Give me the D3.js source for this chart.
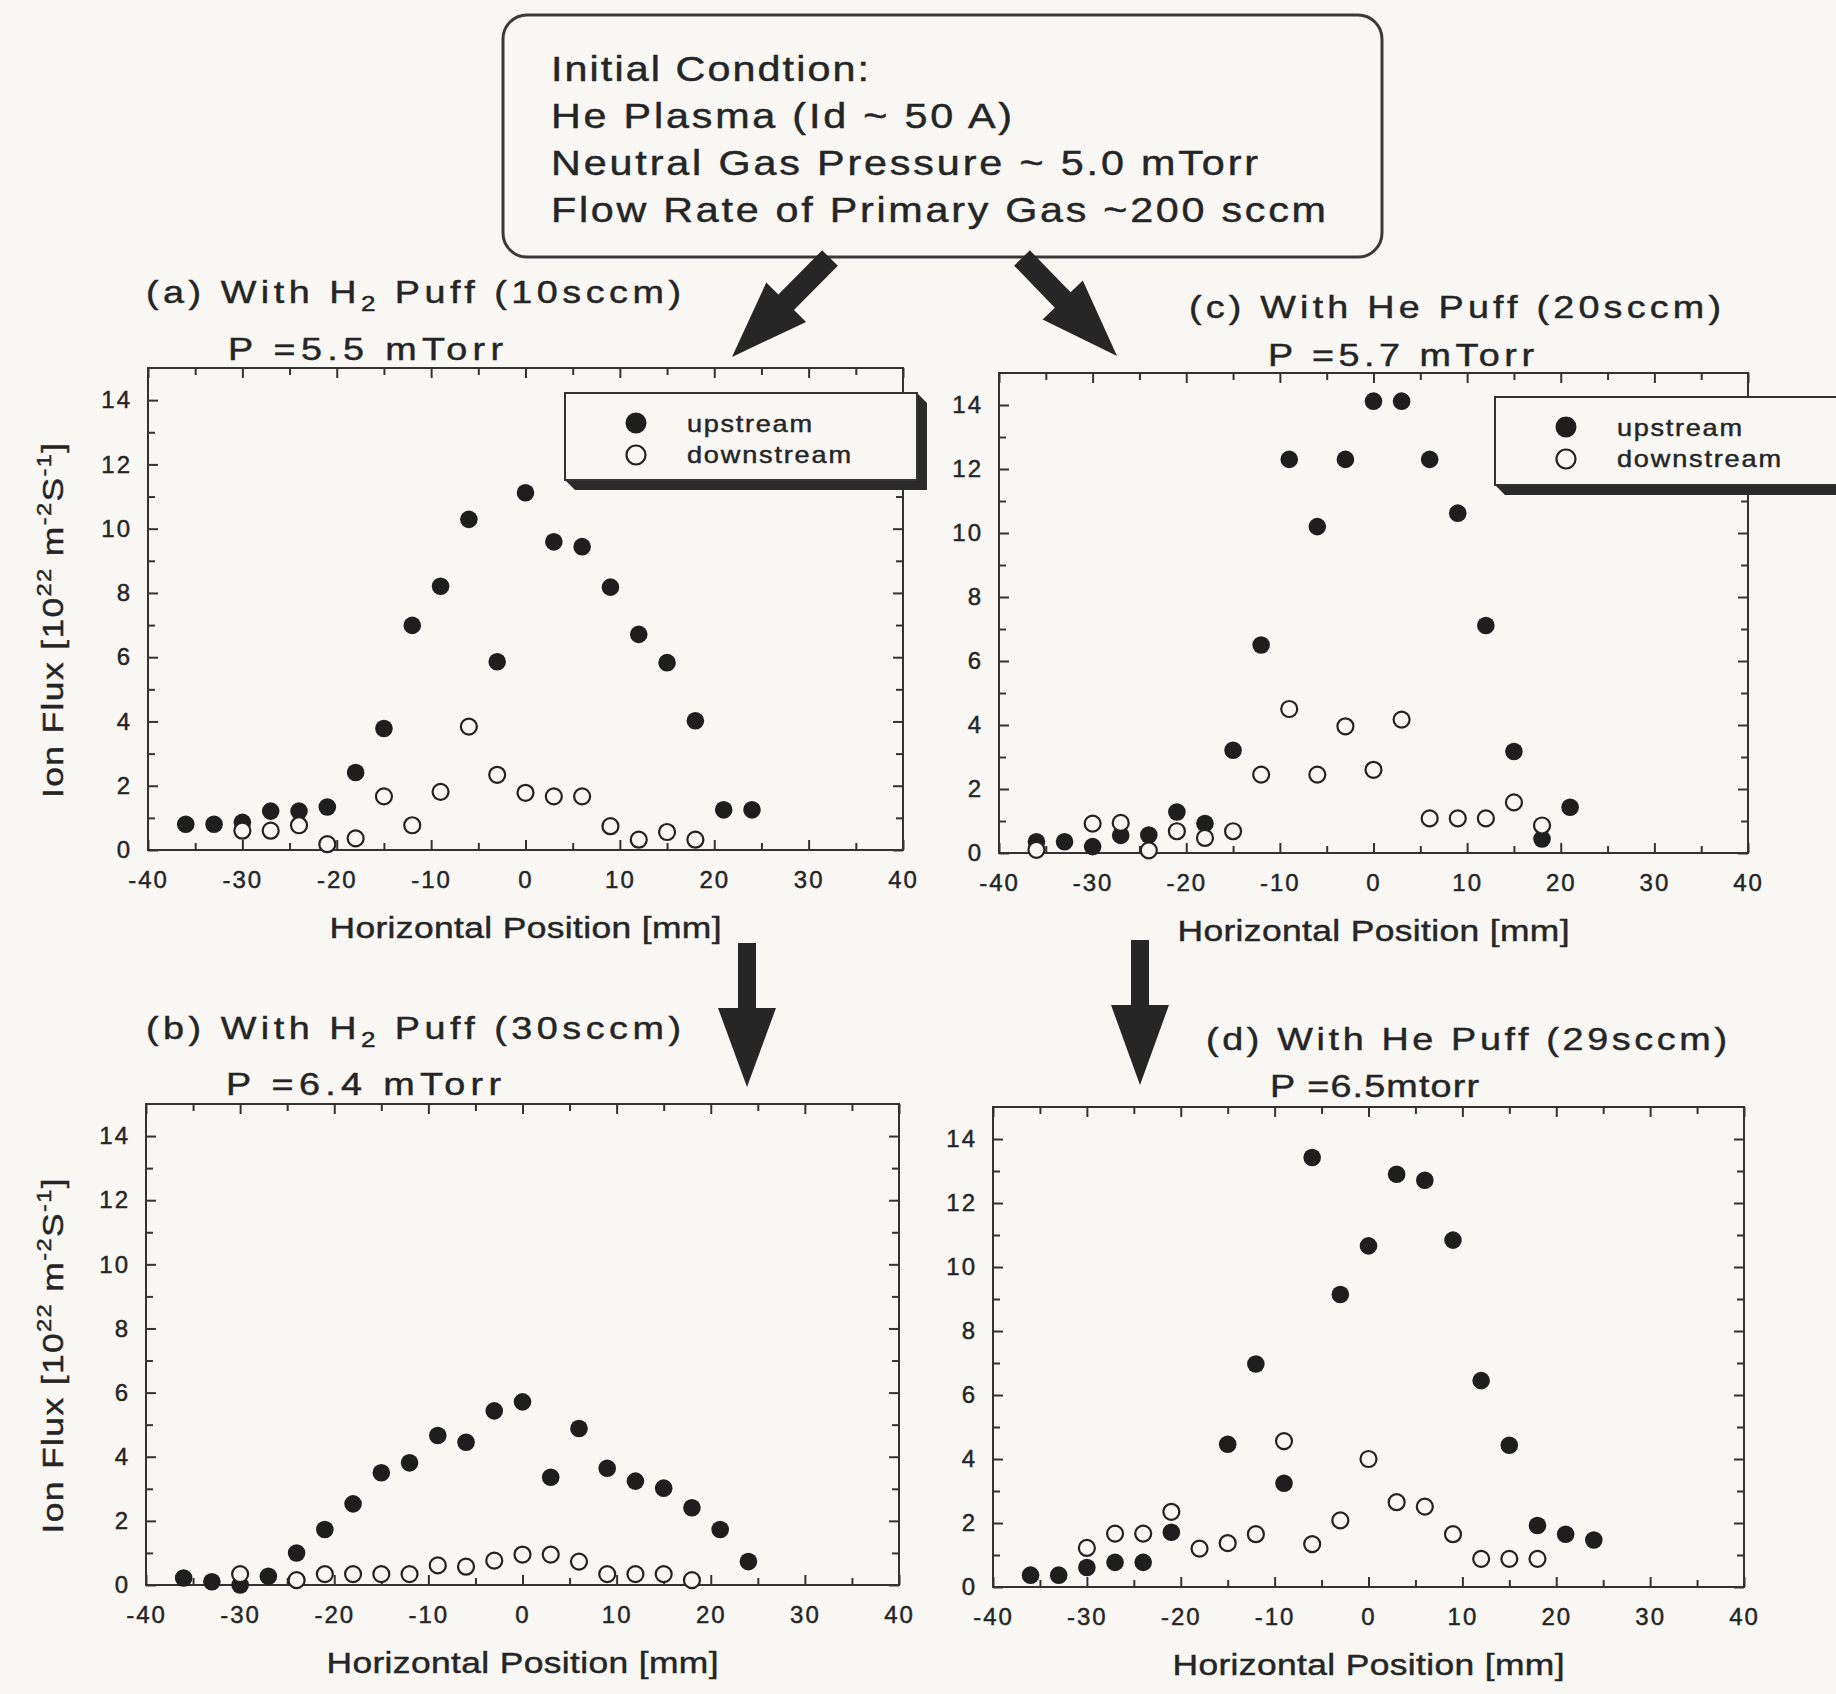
<!DOCTYPE html>
<html>
<head>
<meta charset="utf-8">
<script src="https://cdn.jsdelivr.net/npm/d3@7"></script>
<style>
  html, body { margin: 0; padding: 0; background: #f8f7f4; }
  svg { display: block; font-family: "Liberation Sans", Arial, Helvetica, sans-serif; }
  svg text { stroke: #252525; stroke-width: 0.45px; }
</style>
</head>
<body>
<svg id="fig" width="1836" height="1694"></svg>
<script>
// Probe positions across the plasma column [mm]
const positionsMm = [-36, -33, -30, -27, -24, -21, -18, -15, -12, -9, -6, -3, 0, 3, 6, 9, 12, 15, 18, 21, 24];

// Ion flux [10^22 m^-2 s^-1]; null = no measurement at that position
const fluxA_up   = [0.80, 0.80, 0.86, 1.21, 1.21, 1.34, 2.41, 3.78, 6.99, 8.21, 10.29, 5.86, 11.12, 9.59, 9.44, 8.18, 6.71, 5.83, 4.02, 1.25, 1.25];
const fluxA_down = [null, null, 0.60, 0.60, 0.77, 0.18, 0.36, 1.67, 0.77, 1.81, 3.84, 2.34, 1.78, 1.67, 1.67, 0.74, 0.32, 0.56, 0.32, null, null];

const fluxB_up   = [0.22, 0.10, 0.00, 0.27, 1.00, 1.73, 2.53, 3.50, 3.81, 4.66, 4.45, 5.43, 5.71, 3.36, 4.88, 3.64, 3.24, 3.02, 2.41, 1.73, 0.73];
const fluxB_down = [null, null, 0.34, null, 0.15, 0.34, 0.34, 0.34, 0.34, 0.61, 0.57, 0.76, 0.95, 0.95, 0.73, 0.34, 0.34, 0.34, 0.15, null, null];

const fluxC_up   = [0.35, 0.35, 0.20, 0.55, 0.56, 1.28, 0.92, 3.21, 6.50, 12.30, 10.20, 12.30, 14.12, 14.12, 12.30, 10.62, 7.11, 3.17, 0.44, 1.43, null];
const fluxC_down = [0.10, null, 0.92, 0.94, 0.08, 0.68, 0.47, 0.68, 2.45, 4.50, 2.45, 3.96, 2.60, 4.17, 1.08, 1.08, 1.08, 1.58, 0.86, null, null];

const fluxD_up   = [0.37, 0.37, 0.61, 0.77, 0.77, 1.71, null, 4.46, 6.97, 3.24, 13.42, 9.14, 10.66, 12.90, 12.71, 10.84, 6.45, 4.43, 1.92, 1.65, 1.47];
const fluxD_down = [null, null, 1.22, 1.67, 1.67, 2.35, 1.20, 1.37, 1.65, 4.56, 1.34, 2.08, 4.00, 2.65, 2.51, 1.65, 0.88, 0.88, 0.88, null, null];

// Axis ticks
const xTicksMajor = [-40, -30, -20, -10, 0, 10, 20, 30, 40];
const xTicksMinor = [-35, -25, -15, -5, 5, 15, 25, 35];
const yTicksMajor = [0, 2, 4, 6, 8, 10, 12, 14];
const yTicksMinor = [1, 3, 5, 7, 9, 11, 13];

// Text
const conditionLines = [
  "Initial Condtion:",
  "He Plasma (Id ~ 50 A)",
  "Neutral Gas Pressure ~ 5.0 mTorr",
  "Flow Rate of Primary Gas ~200 sccm"
];
const seriesNames = ["upstream", "downstream"];
const xAxisTitle = "Horizontal Position [mm]";

const BG = "#f8f7f4";
const INK = "#252525";
const STRETCH = 1.18;   // wide-set sans: glyphs stretched horizontally

const svg = d3.select("#fig");
svg.append("rect").attr("width", 1836).attr("height", 1694).attr("fill", BG);

// Text drawn with wider glyphs, fitted to a given total width
function wideText(parent, x, y, size, width, rotate) {
  const g = parent.append("g")
    .attr("transform", `translate(${x},${y})${rotate ? ` rotate(${rotate})` : ""} scale(${STRETCH},1)`);
  return g.append("text")
    .attr("font-size", size).attr("fill", INK)
    .attr("textLength", width / STRETCH).attr("lengthAdjust", "spacing");
}

// ---------- Initial-condition box ----------
svg.append("rect")
  .attr("x", 503).attr("y", 15).attr("width", 879).attr("height", 242)
  .attr("rx", 24).attr("ry", 24)
  .attr("fill", BG).attr("stroke", "#3a3a3a").attr("stroke-width", 3);

const condWidths = [318, 461, 707, 775];
const condBase = [81, 128, 175, 222];
conditionLines.forEach((t, i) => {
  wideText(svg, 551, condBase[i], 35, condWidths[i]).text(t);
});

// ---------- Arrows ----------
function arrowPoints(sx, sy, tx, ty, shaftHalf, headHalf, headLen) {
  const dx = tx - sx, dy = ty - sy, L = Math.hypot(dx, dy);
  const ux = dx / L, uy = dy / L, nx = -uy, ny = ux;
  const bx = tx - ux * headLen, by = ty - uy * headLen;
  return [
    [sx + nx * shaftHalf, sy + ny * shaftHalf],
    [bx + nx * shaftHalf, by + ny * shaftHalf],
    [bx + nx * headHalf, by + ny * headHalf],
    [tx, ty],
    [bx - nx * headHalf, by - ny * headHalf],
    [bx - nx * shaftHalf, by - ny * shaftHalf],
    [sx - nx * shaftHalf, sy - ny * shaftHalf]
  ];
}
const arrows = [
  arrowPoints(830, 258, 732, 357, 11, 28, 77),
  arrowPoints(1022, 258, 1117, 356, 11, 28, 78),
  arrowPoints(747, 943, 747, 1087, 9, 29, 79),
  arrowPoints(1140, 940, 1140, 1085, 9, 29, 80)
];
svg.selectAll("polygon.arrow").data(arrows).join("polygon")
  .attr("class", "arrow")
  .attr("points", d => d.map(p => p.join(",")).join(" "))
  .attr("fill", "#262626");

// ---------- Panels ----------
const panels = [
  { up: fluxA_up, down: fluxA_down, x0: 148, x1: 903, yTop: 368, y0: 850, yLabel: true,
    title: ["(a) With H", "2", " Puff (10sccm)"], tX: 146, tY: 303, tW: 535,
    sub: "P =5.5 mTorr", sX: 228, sY: 360, sW: 275,
    legend: { x: 565, y: 393, w: 352, h: 87 } },
  { up: fluxC_up, down: fluxC_down, x0: 999, x1: 1748, yTop: 373, y0: 853, yLabel: false,
    title: ["(c) With He Puff (20sccm)"], tX: 1189, tY: 318, tW: 532,
    sub: "P =5.7 mTorr", sX: 1268, sY: 366, sW: 266,
    legend: { x: 1495, y: 397, w: 400, h: 88 } },
  { up: fluxB_up, down: fluxB_down, x0: 146, x1: 899, yTop: 1104, y0: 1585, yLabel: true,
    title: ["(b) With H", "2", " Puff (30sccm)"], tX: 146, tY: 1039, tW: 535,
    sub: "P =6.4 mTorr", sX: 226, sY: 1095, sW: 275 },
  { up: fluxD_up, down: fluxD_down, x0: 993, x1: 1744, yTop: 1107, y0: 1587, yLabel: false,
    title: ["(d) With He Puff (29sccm)"], tX: 1206, tY: 1050, tW: 521,
    sub: "P =6.5mtorr", sX: 1270, sY: 1097, sW: 209 }
];

const fmt = d => String(d);

panels.forEach(p => {
  const x = d3.scaleLinear().domain([-40, 40]).range([p.x0, p.x1]);
  const y = d3.scaleLinear().domain([0, 15]).range([p.y0, p.yTop]);
  const g = svg.append("g");

  // Titles
  const t = wideText(g, p.tX, p.tY, 32, p.tW);
  if (p.title.length === 3) {
    t.append("tspan").text(p.title[0]);
    t.append("tspan").attr("font-size", 22).attr("dy", 8).text(p.title[1]);
    t.append("tspan").attr("dy", -8).text(p.title[2]);
  } else {
    t.text(p.title[0]);
  }
  wideText(g, p.sX, p.sY, 32, p.sW).text(p.sub);

  // Frame
  g.append("rect")
    .attr("x", p.x0).attr("y", p.yTop)
    .attr("width", p.x1 - p.x0).attr("height", p.y0 - p.yTop)
    .attr("fill", "none").attr("stroke", "#333").attr("stroke-width", 2);

  const styleAxis = sel => {
    sel.select(".domain").remove();
    sel.selectAll("line").attr("stroke", "#333").attr("stroke-width", 2);
    sel.selectAll("text")
      .attr("font-size", 24).attr("fill", INK)
      .attr("font-family", "Liberation Sans, Arial, sans-serif")
      .style("letter-spacing", "2px");
  };

  // Major ticks with labels (bottom, left) and mirrored ticks (top, right)
  g.append("g").attr("transform", `translate(0,${p.y0})`)
    .call(d3.axisBottom(x).tickValues(xTicksMajor).tickSizeInner(-10).tickSizeOuter(0).tickPadding(21).tickFormat(fmt))
    .call(styleAxis);
  g.append("g").attr("transform", `translate(0,${p.y0})`)
    .call(d3.axisBottom(x).tickValues(xTicksMinor).tickSizeInner(-7).tickSizeOuter(0).tickFormat(""))
    .call(styleAxis);
  g.append("g").attr("transform", `translate(0,${p.yTop})`)
    .call(d3.axisTop(x).tickValues(xTicksMajor).tickSizeInner(-10).tickSizeOuter(0).tickFormat(""))
    .call(styleAxis);
  g.append("g").attr("transform", `translate(0,${p.yTop})`)
    .call(d3.axisTop(x).tickValues(xTicksMinor).tickSizeInner(-7).tickSizeOuter(0).tickFormat(""))
    .call(styleAxis);

  g.append("g").attr("transform", `translate(${p.x0},0)`)
    .call(d3.axisLeft(y).tickValues(yTicksMajor).tickSizeInner(-10).tickSizeOuter(0).tickPadding(16).tickFormat(fmt))
    .call(styleAxis);
  g.append("g").attr("transform", `translate(${p.x0},0)`)
    .call(d3.axisLeft(y).tickValues(yTicksMinor).tickSizeInner(-7).tickSizeOuter(0).tickFormat(""))
    .call(styleAxis);
  g.append("g").attr("transform", `translate(${p.x1},0)`)
    .call(d3.axisRight(y).tickValues(yTicksMajor).tickSizeInner(-10).tickSizeOuter(0).tickFormat(""))
    .call(styleAxis);
  g.append("g").attr("transform", `translate(${p.x1},0)`)
    .call(d3.axisRight(y).tickValues(yTicksMinor).tickSizeInner(-7).tickSizeOuter(0).tickFormat(""))
    .call(styleAxis);

  // Axis titles
  wideText(g, (p.x0 + p.x1) / 2 - 196, p.y0 + 88, 30, 392).text(xAxisTitle);

  if (p.yLabel) {
    const cy = (p.y0 + p.yTop) / 2 + 12;
    const yl = wideText(g, 63, cy + 177, 30, 355, -90);
    yl.append("tspan").text("Ion Flux [10");
    yl.append("tspan").attr("font-size", 20).attr("dy", -12).text("22");
    yl.append("tspan").attr("dy", 12).text(" m");
    yl.append("tspan").attr("font-size", 20).attr("dy", -12).text("-2");
    yl.append("tspan").attr("dy", 12).text("S");
    yl.append("tspan").attr("font-size", 20).attr("dy", -12).text("-1");
    yl.append("tspan").attr("dy", 12).text("]");
  }

  // Data: upstream (filled), then downstream (open) on top
  const upPts = positionsMm.map((xv, i) => [xv, p.up[i]]).filter(d => d[1] !== null);
  const downPts = positionsMm.map((xv, i) => [xv, p.down[i]]).filter(d => d[1] !== null);

  g.selectAll("circle.up").data(upPts).join("circle")
    .attr("class", "up")
    .attr("cx", d => x(d[0])).attr("cy", d => y(d[1])).attr("r", 8.8)
    .attr("fill", "#1e1e1e");
  g.selectAll("circle.down").data(downPts).join("circle")
    .attr("class", "down")
    .attr("cx", d => x(d[0])).attr("cy", d => y(d[1])).attr("r", 8)
    .attr("fill", BG).attr("stroke", "#222").attr("stroke-width", 2.2);

  // Legend
  if (p.legend) {
    const L = p.legend, off = 10;
    const lg = svg.append("g");
    lg.append("polygon")
      .attr("points", [
        [L.x, L.y + L.h], [L.x + off, L.y + L.h + off], [L.x + L.w + off, L.y + L.h + off],
        [L.x + L.w + off, L.y + off], [L.x + L.w, L.y]
      ].map(q => q.join(",")).join(" "))
      .attr("fill", "#2a2a2a");
    lg.append("rect").attr("x", L.x).attr("y", L.y).attr("width", L.w).attr("height", L.h)
      .attr("fill", BG).attr("stroke", "#333").attr("stroke-width", 2);
    const mx = L.x + 71, tx = L.x + 122;
    lg.append("circle").attr("cx", mx).attr("cy", L.y + 30).attr("r", 10.5).attr("fill", "#1e1e1e");
    lg.append("circle").attr("cx", mx).attr("cy", L.y + 62).attr("r", 9.5)
      .attr("fill", BG).attr("stroke", "#222").attr("stroke-width", 2.2);
    wideText(lg, tx, L.y + 39, 23, 125).text(seriesNames[0]);
    wideText(lg, tx, L.y + 70, 23, 164).text(seriesNames[1]);
  }
});
</script>
</body>
</html>
